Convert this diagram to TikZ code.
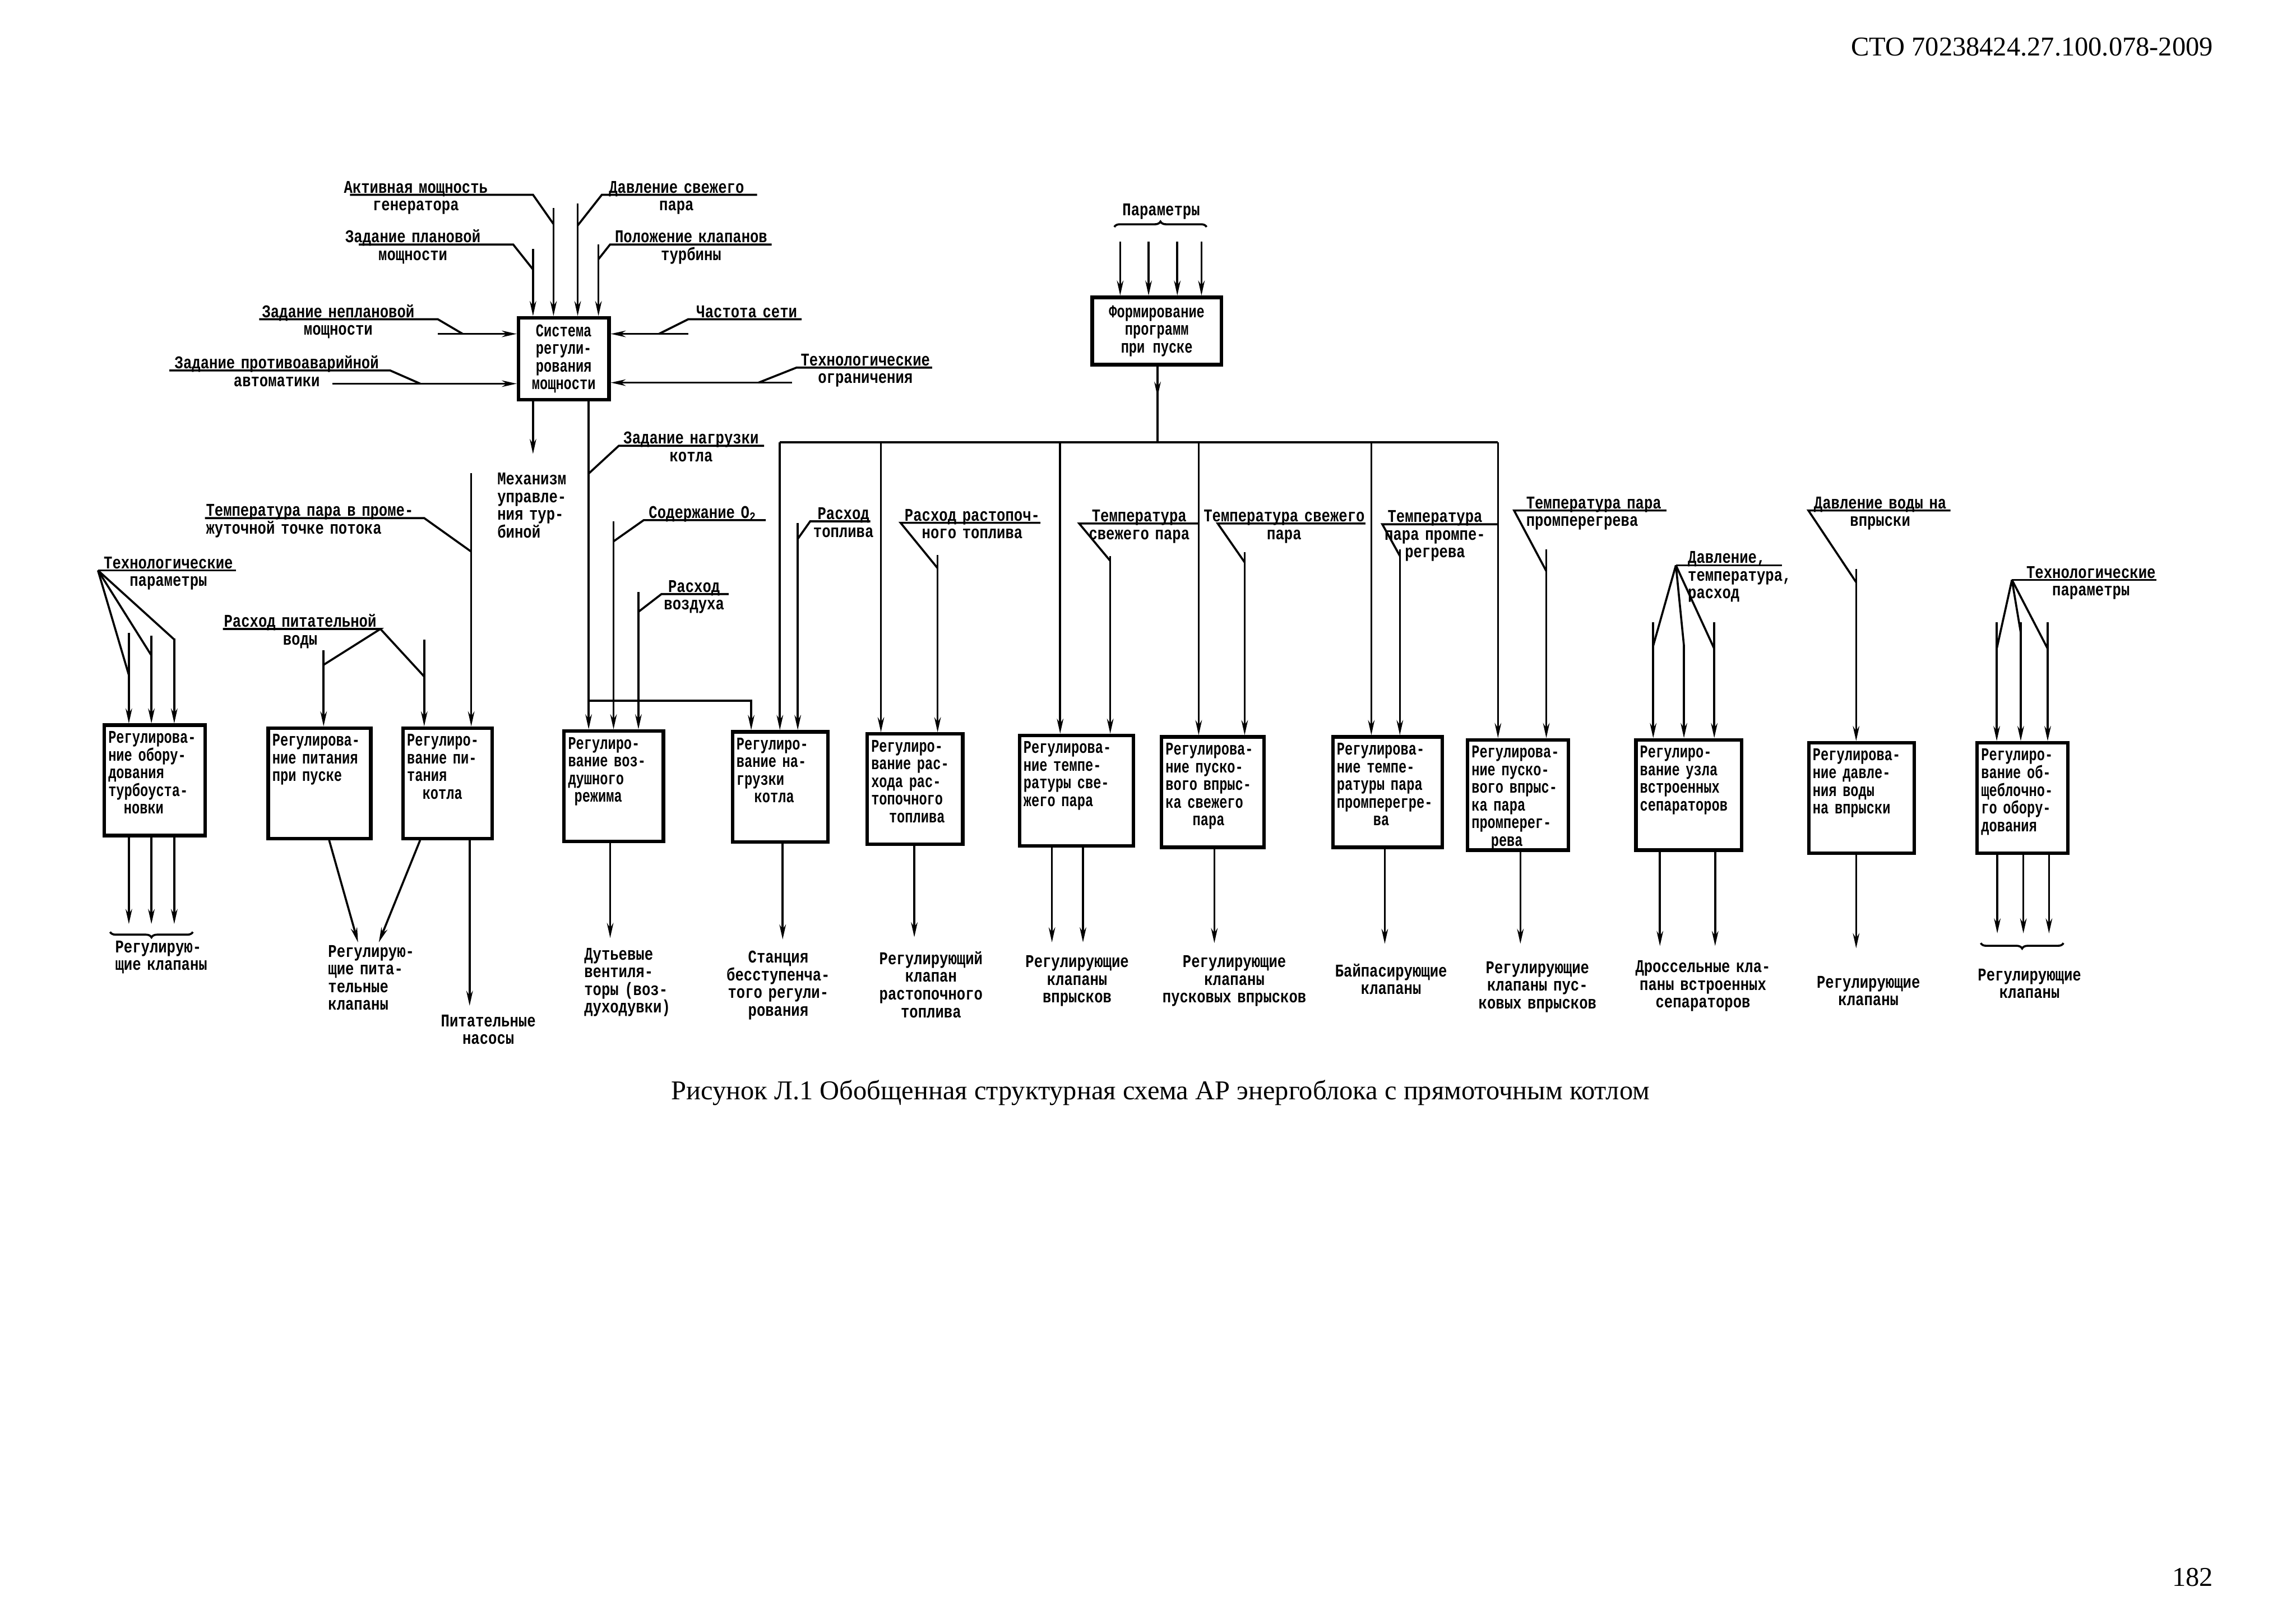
\documentclass[tikz,border=0pt]{standalone}
\usepackage{fontspec}
\setmainfont{Liberation Serif}
\newfontfamily\lblfont[FakeStretch=0.8]{Liberation Mono}
\newfontfamily\boxfont[FakeStretch=0.74]{Liberation Mono}
\usetikzlibrary{arrows.meta,decorations.pathreplacing,decorations.markings}

\begin{document}
\begin{tikzpicture}[x=0.01894cm, y=-0.01894cm, line width=0.75pt,
    font=\lblfont\bfseries\fontsize{6.6}{6.5}\selectfont,
    arr/.style={-{Stealth[length=5.5pt,width=2.4pt]}},
    midarr/.style={postaction={decorate}, decoration={markings,
        mark=at position 0.4 with {\arrow{Stealth[length=5.5pt,width=2.4pt]}}}},
    blk/.style={draw, line width=1.3pt, anchor=north west, align=left,
        inner xsep=1.5pt, inner ysep=2pt, text height=4.6pt, text depth=32pt,
        font=\boxfont\bfseries\fontsize{6.6}{6.5}\selectfont},
    ctrl/.style={draw, line width=1.3pt, align=center, inner sep=1pt,
        font=\boxfont\bfseries\fontsize{6.6}{6.5}\selectfont},
    lbl/.style={inner sep=0pt, text width=4cm, align=center, anchor=base},
    lbll/.style={inner sep=0pt, text width=4cm, align=left, anchor=base west},
    brc/.style={decorate, decoration={brace, amplitude=2pt}}]
  \useasboundingbox (0,0) rectangle (1568,1109);

  % Page header, caption and page number
  \node[anchor=base east, inner sep=0pt, font=\rmfamily\fontsize{10}{12}\selectfont] (hdr) at (1512,38) {СТО 70238424.27.100.078-2009};
  \node[anchor=base, inner sep=0pt, font=\rmfamily\fontsize{10}{12}\selectfont] (cap) at (792.5,751) {Рисунок Л.1 Обобщенная структурная схема АР энергоблока с прямоточным котлом};
  \node[anchor=base east, inner sep=0pt, font=\rmfamily\fontsize{10}{12}\selectfont] (pg) at (1512,1083) {182};

  % Regulation loops
  \node[blk, text width=1.20cm] (b1) at (70,494) {Регулирова-\\ние обору-\\дования\\турбоуста-\\\hspace*{2mm}новки};
  \node[blk, text width=1.22cm] (b2) at (182,496) {Регулирова-\\ние питания\\при пуске};
  \node[blk, text width=1.05cm] (b3) at (274,496) {Регулиро-\\вание пи-\\тания\\\hspace*{2mm}котла};
  \node[blk, text width=1.18cm] (b4) at (384,498) {Регулиро-\\вание воз-\\душного\\\hspace*{0.8mm}режима};
  \node[blk, text width=1.13cm] (b5) at (499,498.5) {Регулиро-\\вание на-\\грузки\\\hspace*{2.3mm}котла};
  \node[blk, text width=1.13cm] (b6) at (591,500) {Регулиро-\\вание рас-\\хода рас-\\топочного\\\hspace*{2.3mm}топлива};
  \node[blk, text width=1.37cm] (b7) at (695,501) {Регулирова-\\ние темпе-\\ратуры све-\\жего пара};
  \node[blk, text width=1.22cm] (b8) at (792,502) {Регулирова-\\ние пуско-\\вого впрыс-\\ка свежего\\\hspace*{3.5mm}пара};
  \node[blk, text width=1.31cm] (b9) at (909,502) {Регулирова-\\ние темпе-\\ратуры пара\\промперегре-\\\hspace*{4.7mm}ва};
  \node[blk, text width=1.20cm] (b10) at (1001,504) {Регулирова-\\ние пуско-\\вого впрыс-\\ка пара\\промперег-\\\hspace*{2.5mm}рева};
  \node[blk, text width=1.26cm] (b11) at (1116,504) {Регулиро-\\вание узла\\встроенных\\сепараторов};
  \node[blk, text width=1.26cm] (b12) at (1234,506) {Регулирова-\\ние давле-\\ния воды\\на впрыски};
  \node[blk, text width=1.07cm] (b13) at (1349,506) {Регулиро-\\вание об-\\щеблочно-\\го обору-\\дования};

  % Power control system and its signals
  \node[ctrl, minimum width=1.17cm, minimum height=1.06cm] (sys) at (385,245) {Система\\регули-\\рования\\мощности};
  \path (364,170) coordinate (s1) (378,142) coordinate (s2) (394.5,139) coordinate (s3) (408.7,167) coordinate (s4);
  \foreach \c in {s1,s2,s3,s4}
    \draw[arr] (\c) -- (\c |- sys.north);

  \node[lbl] (tAM) at (284,131.7) {Активная мощность\\генератора};
  \path (239,133) coordinate (uAM) (364,133) coordinate (kAM) (378,153) coordinate (jAM);
  \draw (uAM) -- (kAM) -- (jAM);
  \node[lbl] (tDP) at (462,131.7) {Давление свежего\\пара};
  \path (517,133) coordinate (uDP) (411,133) coordinate (kDP) (394.5,154) coordinate (jDP);
  \draw (uDP) -- (kDP) -- (jDP);
  \node[lbl] (tZP) at (282,165.7) {Задание плановой\\мощности};
  \path (245,167) coordinate (uZP) (350.5,167) coordinate (kZP) (364,184) coordinate (jZP);
  \draw (uZP) -- (kZP) -- (jZP);
  \node[lbl] (tPK) at (472,165.7) {Положение клапанов\\турбины};
  \path (527,167) coordinate (uPK) (416.6,167) coordinate (kPK) (408.7,177) coordinate (jPK);
  \draw (uPK) -- (kPK) -- (jPK);

  \node[lbl] (tZN) at (231,216.7) {Задание неплановой\\мощности};
  \path (177,218) coordinate (uZN) (299,218) coordinate (kZN) (316,228) coordinate (jZN) (299,228) coordinate (s5);
  \draw (uZN) -- (kZN) -- (jZN);
  \draw[arr] (s5) -- (s5 -| sys.west);
  \node[lbl] (tZA) at (189,251.7) {Задание противоаварийной\\автоматики};
  \path (115.7,253) coordinate (uZA) (266.5,253) coordinate (kZA) (287,262) coordinate (jZA) (227,262) coordinate (s6);
  \draw (uZA) -- (kZA) -- (jZA);
  \draw[arr] (s6) -- (s6 -| sys.west);
  \node[lbl] (tCS) at (510,216.7) {Частота сети};
  \path (547.5,218) coordinate (uCS) (470,218) coordinate (kCS) (450,228) coordinate (jCS) (470,228) coordinate (s7);
  \draw (uCS) -- (kCS) -- (jCS);
  \draw[arr] (s7) -- (s7 -| sys.east);
  \node[lbl] (tTO) at (591,249.7) {Технологические\\ограничения};
  \path (636.6,251) coordinate (uTO) (544,251) coordinate (kTO) (518,261.3) coordinate (jTO) (541,261.3) coordinate (s8);
  \draw (uTO) -- (kTO) -- (jTO);
  \draw[arr] (s8) -- (s8 -| sys.east);

  % Outputs of the power control system
  \coordinate (m1) at (364,310);
  \draw[arr] (sys.south -| m1) -- (m1);
  \node[lbll] (tMU) at (339,331) {Механизм\\управле-\\ния тур-\\биной};
  \path (402,478.5) coordinate (kj) (513,478.5) coordinate (kc);
  \draw[arr] (sys.south -| kj) -- (kj |- b4.north);
  \draw[arr] (kj) -- (kc) -- (kc |- b5.north);
  \node[lbl] (tZK) at (472,303) {Задание нагрузки\\котла};
  \path (521.8,304.4) coordinate (uZK) (422.6,304.4) coordinate (kZK) (402,323.4) coordinate (jZK);
  \draw (uZK) -- (kZK) -- (jZK);

  % Start-up program and its bus
  \node[ctrl, minimum width=1.67cm, minimum height=0.87cm] (prog) at (790,226) {Формирование\\программ\\при пуске};
  \node[lbl] (tPar) at (793,147) {Параметры};
  \path (761,155) coordinate (brL) (824,155) coordinate (brR);
  \draw[brc] (brL) -- (brR);
  \foreach \x [count=\i] in {765,784.4,804,820.5} {
    \coordinate (p\i) at (\x,165);
    \draw[arr] (p\i) -- (p\i |- prog.north);
  }
  \path (532.6,302) coordinate (busL) (1023,302) coordinate (busR) (790.5,302) coordinate (busJ);
  \draw (busL) -- (busR);
  \draw[midarr] (prog.south -| busJ) -- (busJ);
  \foreach \x/\bx [count=\i] in {532.6/b5, 601.6/b6, 724/b7, 818.6/b8, 936.5/b9, 1023/b10} {
    \coordinate (d\i) at (\x,302);
    \draw[arr] (d\i) -- (d\i |- \bx.north);
  }

  % Measured signals, left part
  \node[lbl] (tTP1) at (115,388.2) {Технологические\\параметры};
  \path (161,389.5) coordinate (uTP1) (66.9,389.5) coordinate (kTP1);
  \draw (uTP1) -- (kTP1);
  \foreach \x/\yj/\yv [count=\i] in {88/461/432, 103.4/447.6/434, 119/436.7/436} {
    \path (\x,\yj) coordinate (jTP\i) (\x,\yv) coordinate (vTP\i);
    \draw (kTP1) -- (jTP\i);
    \draw[arr] (vTP\i) -- (vTP\i |- b1.north);
  }
  \node[lbl] (tRPV) at (205,428.2) {Расход питательной\\воды};
  \path (152.2,429.5) coordinate (uRPV) (259.8,429.5) coordinate (kRPV)
        (221,454) coordinate (jRPV1) (289.7,462) coordinate (jRPV2)
        (221,444) coordinate (vRPV1) (289.7,436.7) coordinate (vRPV2);
  \draw (uRPV) -- (kRPV) -- (jRPV1);
  \draw (kRPV) -- (jRPV2);
  \draw[arr] (vRPV1) -- (vRPV1 |- b2.north);
  \draw[arr] (vRPV2) -- (vRPV2 |- b3.north);
  \node[lbll] (tTPT) at (140,352.5) {Температура пара в проме-\\жуточной точке потока};
  \path (140,353.8) coordinate (uTPT) (289.7,353.8) coordinate (kTPT) (321.8,376.7) coordinate (jTPT) (321.8,323) coordinate (vTPT);
  \draw (uTPT) -- (kTPT) -- (jTPT);
  \draw[arr] (vTPT) -- (vTPT |- b3.north);

  % Measured signals, boiler part
  \node[lbl] (tCO) at (480,353.9) {Содержание O\textsubscript{2}};
  \path (523,355.2) coordinate (uCO) (439.6,355.2) coordinate (kCO) (419,369.7) coordinate (jCO) (419,356) coordinate (vCO);
  \draw (uCO) -- (kCO) -- (jCO);
  \draw[arr] (vCO) -- (vCO |- b4.north);
  \node[lbl] (tRV) at (474,404.4) {Расход\\воздуха};
  \path (497.6,405.7) coordinate (uRV) (451.7,405.7) coordinate (kRV) (436,417.8) coordinate (jRV) (436,404.2) coordinate (vRV);
  \draw (uRV) -- (kRV) -- (jRV);
  \draw[arr] (vRV) -- (vRV |- b4.north);
  \node[lbl] (tRT) at (576,354.7) {Расход\\топлива};
  \path (594.4,356) coordinate (uRT) (553.3,356) coordinate (kRT) (544.8,368) coordinate (jRT) (544.8,357) coordinate (vRT);
  \draw (uRT) -- (kRT) -- (jRT);
  \draw[arr] (vRT) -- (vRT |- b5.north);
  \node[lbl] (tRR) at (664,355.7) {Расход растопоч-\\ного топлива};
  \path (710.5,357) coordinate (uRR) (615,357) coordinate (kRR) (640.3,388) coordinate (jRR) (640.3,379) coordinate (vRR);
  \draw (uRR) -- (kRR) -- (jRR);
  \draw[arr] (vRR) -- (vRR |- b6.north);
  \node[lbl] (tTS) at (778,356.2) {Температура\\свежего пара};
  \path (818.5,357.5) coordinate (uTS) (737,357.5) coordinate (kTS) (758.2,383) coordinate (jTS) (758.2,379.6) coordinate (vTS);
  \draw (uTS) -- (kTS) -- (jTS);
  \draw[arr] (vTS) -- (vTS |- b7.north);
  \node[lbl] (tTSP) at (877,356.2) {Температура свежего\\пара};
  \path (932.5,357.5) coordinate (uTSP) (831.6,357.5) coordinate (kTSP) (850,384) coordinate (jTSP) (850,377) coordinate (vTSP);
  \draw (uTSP) -- (kTSP) -- (jTSP);
  \draw[arr] (vTSP) -- (vTSP |- b8.north);
  \node[lbl] (tTP) at (980,356.7) {Температура\\пара промпе-\\регрева};
  \path (1023,358) coordinate (uTP) (944,358) coordinate (kTP) (956,379.6) coordinate (jTP) (956,375) coordinate (vTP);
  \draw (uTP) -- (kTP) -- (jTP);
  \draw[arr] (vTP) -- (vTP |- b9.north);
  \node[lbll] (tTPP) at (1041.6,347.3) {Температура пара\\промперегрева};
  \path (1138,348.6) coordinate (uTPP) (1034,348.6) coordinate (kTPP) (1056,390) coordinate (jTPP) (1056,375) coordinate (vTPP);
  \draw (uTPP) -- (kTPP) -- (jTPP);
  \draw[arr] (vTPP) -- (vTPP |- b10.north);

  % Measured signals, right part
  \node[lbll] (tDTR) at (1152,384.7) {Давление,\\температура,\\расход};
  \path (1217,386) coordinate (uDTR) (1144.5,386) coordinate (kDTR);
  \draw (uDTR) -- (kDTR);
  \foreach \x/\yj/\yv [count=\i] in {1129/441/425, 1150/441/441, 1170.7/443/425} {
    \path (\x,\yj) coordinate (jDTR\i) (\x,\yv) coordinate (vDTR\i);
    \draw (kDTR) -- (jDTR\i);
    \draw[arr] (vDTR\i) -- (vDTR\i |- b11.north);
  }
  \node[lbl] (tDV) at (1284,347.3) {Давление воды на\\впрыски};
  \path (1332,348.6) coordinate (uDV) (1235,348.6) coordinate (kDV) (1267.6,397.6) coordinate (jDV) (1267.6,388.6) coordinate (vDV);
  \draw (uDV) -- (kDV) -- (jDV);
  \draw[arr] (vDV) -- (vDV |- b12.north);
  \node[lbl] (tTP2) at (1428,394.7) {Технологические\\параметры};
  \path (1472.5,396) coordinate (uTP2) (1374,396) coordinate (kTP2);
  \draw (uTP2) -- (kTP2);
  \foreach \x/\yj [count=\i] in {1363.6/443, 1380/432, 1398.4/443} {
    \path (\x,\yj) coordinate (jTP2\i) (\x,424.8) coordinate (vTP2\i);
    \draw (kTP2) -- (jTP2\i);
    \draw[arr] (vTP2\i) -- (vTP2\i |- b13.north);
  }

  % Outputs to actuators
  \foreach \x [count=\i] in {88,103.4,119} {
    \coordinate (o1\i) at (\x,631);
    \draw[arr] (o1\i |- b1.south) -- (o1\i);
  }
  \path (131.7,636.4) coordinate (brA) (75.2,636.4) coordinate (brB);
  \draw[brc] (brA) -- (brB);
  \node[lbll] (tO1) at (78,650.5) {Регулирую-\\щие клапаны};

  \path (224.8,0) coordinate (x2) (244.5,643.5) coordinate (o2)
        (286.9,0) coordinate (x3) (258.7,643.5) coordinate (o3) (320.7,686.8) coordinate (o3n);
  \draw[arr] (x2 |- b2.south) -- (o2);
  \draw[arr] (x3 |- b3.south) -- (o3);
  \draw[arr] (o3n |- b3.south) -- (o3n);
  \node[lbll] (tO2) at (223.4,653.5) {Регулирую-\\щие пита-\\тельные\\клапаны};
  \node[lbl] (tO3) at (333.5,701) {Питательные\\насосы};

  \coordinate (o4) at (416.7,640.5);
  \draw[arr] (o4 |- b4.south) -- (o4);
  \node[lbll] (tO4) at (398.3,655.5) {Дутьевые\\вентиля-\\торы (воз-\\духодувки)};
  \coordinate (o5) at (534.5,641.5);
  \draw[arr] (o5 |- b5.south) -- (o5);
  \node[lbl] (tO5) at (531.5,657.6) {Станция\\бесступенча-\\того регули-\\рования};
  \coordinate (o6) at (624.4,640);
  \draw[arr] (o6 |- b6.south) -- (o6);
  \node[lbl] (tO6) at (635.8,658.6) {Регулирующий\\клапан\\растопочного\\топлива};
  \path (718.4,643.5) coordinate (o71) (739.6,643.5) coordinate (o72);
  \draw[arr] (o71 |- b7.south) -- (o71);
  \draw[arr] (o72 |- b7.south) -- (o72);
  \node[lbl] (tO7) at (735.6,660.6) {Регулирующие\\клапаны\\впрысков};
  \coordinate (o8) at (829.3,644);
  \draw[arr] (o8 |- b8.south) -- (o8);
  \node[lbl] (tO8) at (843,660.6) {Регулирующие\\клапаны\\пусковых впрысков};
  \coordinate (o9) at (945.7,644.5);
  \draw[arr] (o9 |- b9.south) -- (o9);
  \node[lbl] (tO9) at (950,667) {Байпасирующие\\клапаны};
  \coordinate (o10) at (1038.3,644.5);
  \draw[arr] (o10 |- b10.south) -- (o10);
  \node[lbl] (tO10) at (1050,664.6) {Регулирующие\\клапаны пус-\\ковых впрысков};
  \path (1133.6,646) coordinate (o111) (1171.3,646) coordinate (o112);
  \draw[arr] (o111 |- b11.south) -- (o111);
  \draw[arr] (o112 |- b11.south) -- (o112);
  \node[lbl] (tO11) at (1163,664) {Дроссельные кла-\\паны встроенных\\сепараторов};
  \coordinate (o12) at (1267.6,647.5);
  \draw[arr] (o12 |- b12.south) -- (o12);
  \node[lbl] (tO12) at (1276,674.6) {Регулирующие\\клапаны};
  \foreach \x [count=\i] in {1364,1381.8,1399.3} {
    \coordinate (o13\i) at (\x,637.4);
    \draw[arr] (o13\i |- b13.south) -- (o13\i);
  }
  \path (1409.2,644) coordinate (brC) (1352.7,644) coordinate (brD);
  \draw[brc] (brC) -- (brD);
  \node[lbl] (tO13) at (1386,669.6) {Регулирующие\\клапаны};
\end{tikzpicture}
\end{document}
